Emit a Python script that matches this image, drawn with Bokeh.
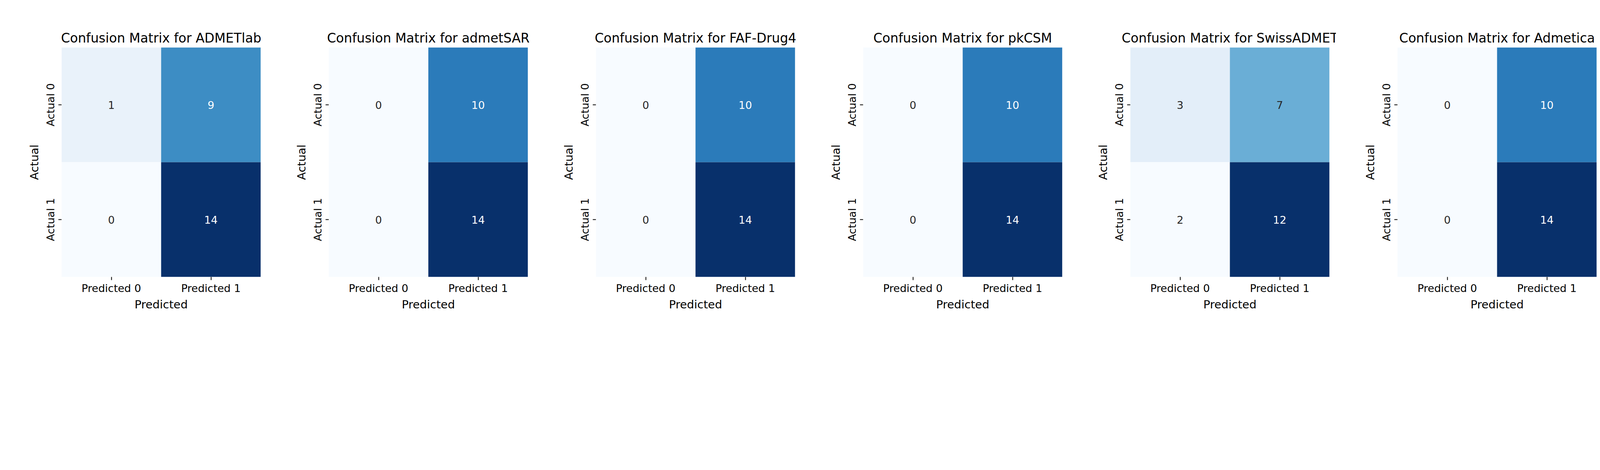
from bokeh.plotting import figure
from bokeh.layouts import row
from bokeh.models import LinearColorMapper, ColumnDataSource
from bokeh.palettes import Blues256
from bokeh.embed import file_html
from bokeh.resources import INLINE
from bokeh.core.properties import value

tools = ["ADMETlab", "admetSAR", "FAF-Drug4", "pkCSM", "SwissADMET", "Admetica"]
# [TN, FP, FN, TP]
tn = [1, 0, 0, 0, 3, 0]
fp = [9, 10, 10, 10, 7, 10]
fn = [0, 0, 0, 0, 2, 0]
tp = [14, 14, 14, 14, 12, 14]
xcats = ["Predicted 0", "Predicted 1"]
ycats = ["Actual 1", "Actual 0"]

pal = list(reversed(Blues256))
FONT = "DejaVu Sans"
figs = []
for i, name in enumerate(tools):
    vals = [tn[i], fp[i], fn[i], tp[i]]
    xs = ["Predicted 0", "Predicted 1", "Predicted 0", "Predicted 1"]
    ys = ["Actual 0", "Actual 0", "Actual 1", "Actual 1"]
    lo, hi = min(vals), max(vals)
    mid = (lo + hi) / 2
    tc = ["white" if v > mid else "#262626" for v in vals]
    src = ColumnDataSource(dict(x=xs, y=ys, v=vals, t=[str(v) for v in vals], tc=tc))
    mapper = LinearColorMapper(palette=pal, low=lo, high=hi)
    p = figure(x_range=xcats, y_range=ycats, width=684, height=816,
               output_backend="svg", toolbar_location=None,
               min_border_left=157, min_border_right=17, min_border_top=121,
               min_border_bottom=107, title="Confusion Matrix for " + name)
    p.rect("x", "y", 1, 1, source=src, fill_color={"field": "v", "transform": mapper}, line_color=None)
    p.text("x", "y", text="t", source=src, text_color="tc", text_align="center",
           text_baseline="middle", text_font=value(FONT), text_font_size="27px")
    p.title.text_font = FONT
    p.title.text_font_size = "33px"
    p.title.text_font_style = "normal"
    p.title.text_color = "black"
    p.title.align = "center"
    p.xaxis.axis_label = "Predicted"
    p.yaxis.axis_label = "Actual"
    for ax in (p.xaxis, p.yaxis):
        ax.axis_line_color = None
        ax.major_tick_out = 8
        ax.major_tick_in = 0
        ax.major_tick_line_width = 2
        ax.major_label_text_font = FONT
        ax.major_label_text_font_size = "27px"
        ax.axis_label_text_font = FONT
        ax.axis_label_text_font_size = "29px"
        ax.axis_label_text_font_style = "normal"
        ax.axis_label_text_color = "black"
        ax.major_label_text_color = "black"
        ax.axis_label_standoff = 6
    p.yaxis.major_label_orientation = "vertical"
    p.grid.visible = False
    p.outline_line_color = None
    figs.append(p)

layout = row(*figs, spacing=0)
open("out.html", "w").write(file_html(layout, INLINE))
